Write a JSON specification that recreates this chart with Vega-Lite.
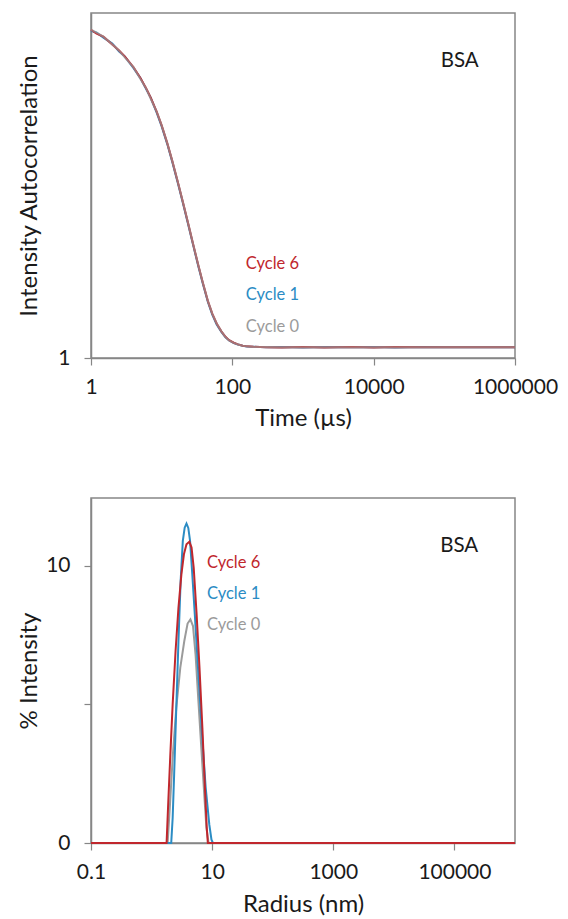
{
  "$schema": "https://vega.github.io/schema/vega-lite/v6.json",
  "padding": {"left": 16, "top": 12, "right": 5, "bottom": 5},
  "background": "white",
  "config": {
    "font": "Lato",
    "view": {"stroke": "#868686", "strokeWidth": 1.5},
    "axis": {
      "grid": false,
      "domainColor": "#868686",
      "domainWidth": 1.5,
      "tickColor": "#868686",
      "tickWidth": 1.2,
      "tickSize": 7,
      "labelFontSize": 21,
      "titleFontSize": 24,
      "titleFontWeight": "normal",
      "labelColor": "#1a1a1a",
      "titleColor": "#1a1a1a",
      "labelFont": "Lato",
      "titleFont": "Lato",
      "labelFlush": false,
      "labelOverlap": false
    }
  },
  "datasets": {
    "acf": [
      {"series": "Cycle 6", "t": 1, "g": 1.333}, {"series": "Cycle 6", "t": 1.2, "g": 1.329}, {"series": "Cycle 6", "t": 1.5, "g": 1.326}, {"series": "Cycle 6", "t": 2, "g": 1.318}, {"series": "Cycle 6", "t": 2.5, "g": 1.312}, {"series": "Cycle 6", "t": 3, "g": 1.306}, {"series": "Cycle 6", "t": 4, "g": 1.295}, {"series": "Cycle 6", "t": 5, "g": 1.284}, {"series": "Cycle 6", "t": 6, "g": 1.274}, {"series": "Cycle 6", "t": 7, "g": 1.264}, {"series": "Cycle 6", "t": 8.5, "g": 1.25}, {"series": "Cycle 6", "t": 10, "g": 1.236}, {"series": "Cycle 6", "t": 12, "g": 1.218}, {"series": "Cycle 6", "t": 14, "g": 1.201}, {"series": "Cycle 6", "t": 17, "g": 1.178}, {"series": "Cycle 6", "t": 20, "g": 1.158}, {"series": "Cycle 6", "t": 24, "g": 1.135}, {"series": "Cycle 6", "t": 28, "g": 1.115}, {"series": "Cycle 6", "t": 33, "g": 1.094}, {"series": "Cycle 6", "t": 38, "g": 1.077}, {"series": "Cycle 6", "t": 45, "g": 1.058}, {"series": "Cycle 6", "t": 52, "g": 1.045}, {"series": "Cycle 6", "t": 60, "g": 1.035}, {"series": "Cycle 6", "t": 70, "g": 1.027}, {"series": "Cycle 6", "t": 80, "g": 1.0215}, {"series": "Cycle 6", "t": 90, "g": 1.018}, {"series": "Cycle 6", "t": 105, "g": 1.0155}, {"series": "Cycle 6", "t": 120, "g": 1.0138}, {"series": "Cycle 6", "t": 140, "g": 1.0125}, {"series": "Cycle 6", "t": 160, "g": 1.0118}, {"series": "Cycle 6", "t": 200, "g": 1.0113}, {"series": "Cycle 6", "t": 300, "g": 1.011}, {"series": "Cycle 6", "t": 500, "g": 1.0106}, {"series": "Cycle 6", "t": 1000, "g": 1.0112}, {"series": "Cycle 6", "t": 2000, "g": 1.0107}, {"series": "Cycle 6", "t": 5000, "g": 1.0111}, {"series": "Cycle 6", "t": 10000, "g": 1.0106}, {"series": "Cycle 6", "t": 20000, "g": 1.0112}, {"series": "Cycle 6", "t": 50000, "g": 1.0109}, {"series": "Cycle 6", "t": 100000, "g": 1.011}, {"series": "Cycle 6", "t": 200000, "g": 1.0108}, {"series": "Cycle 6", "t": 500000, "g": 1.011}, {"series": "Cycle 6", "t": 1000000, "g": 1.011},
      {"series": "Cycle 1", "t": 1, "g": 1.332}, {"series": "Cycle 1", "t": 1.2, "g": 1.33}, {"series": "Cycle 1", "t": 1.5, "g": 1.325}, {"series": "Cycle 1", "t": 2, "g": 1.319}, {"series": "Cycle 1", "t": 2.5, "g": 1.311}, {"series": "Cycle 1", "t": 3, "g": 1.306}, {"series": "Cycle 1", "t": 4, "g": 1.294}, {"series": "Cycle 1", "t": 5, "g": 1.284}, {"series": "Cycle 1", "t": 6, "g": 1.273}, {"series": "Cycle 1", "t": 7, "g": 1.264}, {"series": "Cycle 1", "t": 8.5, "g": 1.249}, {"series": "Cycle 1", "t": 10, "g": 1.235}, {"series": "Cycle 1", "t": 12, "g": 1.217}, {"series": "Cycle 1", "t": 14, "g": 1.2}, {"series": "Cycle 1", "t": 17, "g": 1.177}, {"series": "Cycle 1", "t": 20, "g": 1.157}, {"series": "Cycle 1", "t": 24, "g": 1.134}, {"series": "Cycle 1", "t": 28, "g": 1.114}, {"series": "Cycle 1", "t": 33, "g": 1.093}, {"series": "Cycle 1", "t": 38, "g": 1.076}, {"series": "Cycle 1", "t": 45, "g": 1.057}, {"series": "Cycle 1", "t": 52, "g": 1.044}, {"series": "Cycle 1", "t": 60, "g": 1.034}, {"series": "Cycle 1", "t": 70, "g": 1.0265}, {"series": "Cycle 1", "t": 80, "g": 1.021}, {"series": "Cycle 1", "t": 90, "g": 1.0178}, {"series": "Cycle 1", "t": 105, "g": 1.0152}, {"series": "Cycle 1", "t": 120, "g": 1.0136}, {"series": "Cycle 1", "t": 140, "g": 1.0124}, {"series": "Cycle 1", "t": 160, "g": 1.0117}, {"series": "Cycle 1", "t": 200, "g": 1.0114}, {"series": "Cycle 1", "t": 300, "g": 1.0109}, {"series": "Cycle 1", "t": 500, "g": 1.0111}, {"series": "Cycle 1", "t": 1000, "g": 1.0107}, {"series": "Cycle 1", "t": 2000, "g": 1.0112}, {"series": "Cycle 1", "t": 5000, "g": 1.0108}, {"series": "Cycle 1", "t": 10000, "g": 1.0111}, {"series": "Cycle 1", "t": 20000, "g": 1.0107}, {"series": "Cycle 1", "t": 50000, "g": 1.0112}, {"series": "Cycle 1", "t": 100000, "g": 1.0109}, {"series": "Cycle 1", "t": 200000, "g": 1.011}, {"series": "Cycle 1", "t": 500000, "g": 1.011}, {"series": "Cycle 1", "t": 1000000, "g": 1.011},
      {"series": "Cycle 0", "t": 1, "g": 1.333}, {"series": "Cycle 0", "t": 1.2, "g": 1.33}, {"series": "Cycle 0", "t": 1.5, "g": 1.326}, {"series": "Cycle 0", "t": 2, "g": 1.318}, {"series": "Cycle 0", "t": 2.5, "g": 1.312}, {"series": "Cycle 0", "t": 3, "g": 1.305}, {"series": "Cycle 0", "t": 4, "g": 1.295}, {"series": "Cycle 0", "t": 5, "g": 1.283}, {"series": "Cycle 0", "t": 6, "g": 1.274}, {"series": "Cycle 0", "t": 7, "g": 1.263}, {"series": "Cycle 0", "t": 8.5, "g": 1.25}, {"series": "Cycle 0", "t": 10, "g": 1.236}, {"series": "Cycle 0", "t": 12, "g": 1.218}, {"series": "Cycle 0", "t": 14, "g": 1.201}, {"series": "Cycle 0", "t": 17, "g": 1.178}, {"series": "Cycle 0", "t": 20, "g": 1.158}, {"series": "Cycle 0", "t": 24, "g": 1.135}, {"series": "Cycle 0", "t": 28, "g": 1.115}, {"series": "Cycle 0", "t": 33, "g": 1.094}, {"series": "Cycle 0", "t": 38, "g": 1.077}, {"series": "Cycle 0", "t": 45, "g": 1.058}, {"series": "Cycle 0", "t": 52, "g": 1.045}, {"series": "Cycle 0", "t": 60, "g": 1.035}, {"series": "Cycle 0", "t": 70, "g": 1.027}, {"series": "Cycle 0", "t": 80, "g": 1.0213}, {"series": "Cycle 0", "t": 90, "g": 1.0179}, {"series": "Cycle 0", "t": 105, "g": 1.0154}, {"series": "Cycle 0", "t": 120, "g": 1.0137}, {"series": "Cycle 0", "t": 140, "g": 1.0125}, {"series": "Cycle 0", "t": 160, "g": 1.0118}, {"series": "Cycle 0", "t": 200, "g": 1.0112}, {"series": "Cycle 0", "t": 300, "g": 1.0111}, {"series": "Cycle 0", "t": 500, "g": 1.0108}, {"series": "Cycle 0", "t": 1000, "g": 1.011}, {"series": "Cycle 0", "t": 2000, "g": 1.0109}, {"series": "Cycle 0", "t": 5000, "g": 1.011}, {"series": "Cycle 0", "t": 10000, "g": 1.0109}, {"series": "Cycle 0", "t": 20000, "g": 1.011}, {"series": "Cycle 0", "t": 50000, "g": 1.011}, {"series": "Cycle 0", "t": 100000, "g": 1.011}, {"series": "Cycle 0", "t": 200000, "g": 1.011}, {"series": "Cycle 0", "t": 500000, "g": 1.011}, {"series": "Cycle 0", "t": 1000000, "g": 1.011}
    ],
    "psd": [
      {"series": "Cycle 0", "r": 0.1, "pct": 0}, {"series": "Cycle 0", "r": 1.72, "pct": 0}, {"series": "Cycle 0", "r": 1.84, "pct": 0}, {"series": "Cycle 0", "r": 2.0, "pct": 1.27}, {"series": "Cycle 0", "r": 2.23, "pct": 3.08}, {"series": "Cycle 0", "r": 2.56, "pct": 4.89}, {"series": "Cycle 0", "r": 2.98, "pct": 6.33}, {"series": "Cycle 0", "r": 3.47, "pct": 7.29}, {"series": "Cycle 0", "r": 3.93, "pct": 7.92}, {"series": "Cycle 0", "r": 4.38, "pct": 8.07}, {"series": "Cycle 0", "r": 4.83, "pct": 7.83}, {"series": "Cycle 0", "r": 5.32, "pct": 6.81}, {"series": "Cycle 0", "r": 5.93, "pct": 5.13}, {"series": "Cycle 0", "r": 6.62, "pct": 3.44}, {"series": "Cycle 0", "r": 7.4, "pct": 1.76}, {"series": "Cycle 0", "r": 8.04, "pct": 0.55}, {"series": "Cycle 0", "r": 8.73, "pct": 0}, {"series": "Cycle 0", "r": 1000000, "pct": 0},
      {"series": "Cycle 1", "r": 0.1, "pct": 0}, {"series": "Cycle 1", "r": 1.97, "pct": 0}, {"series": "Cycle 1", "r": 2.11, "pct": 0}, {"series": "Cycle 1", "r": 2.23, "pct": 0.91}, {"series": "Cycle 1", "r": 2.36, "pct": 2.48}, {"series": "Cycle 1", "r": 2.56, "pct": 4.89}, {"series": "Cycle 1", "r": 2.78, "pct": 7.29}, {"series": "Cycle 1", "r": 3.02, "pct": 9.46}, {"series": "Cycle 1", "r": 3.28, "pct": 10.9}, {"series": "Cycle 1", "r": 3.52, "pct": 11.38}, {"series": "Cycle 1", "r": 3.77, "pct": 11.53}, {"series": "Cycle 1", "r": 4.04, "pct": 11.37}, {"series": "Cycle 1", "r": 4.32, "pct": 10.9}, {"series": "Cycle 1", "r": 4.7, "pct": 9.7}, {"series": "Cycle 1", "r": 5.17, "pct": 8.26}, {"series": "Cycle 1", "r": 5.93, "pct": 6.09}, {"series": "Cycle 1", "r": 6.81, "pct": 3.92}, {"series": "Cycle 1", "r": 7.82, "pct": 2.0}, {"series": "Cycle 1", "r": 8.97, "pct": 0.67}, {"series": "Cycle 1", "r": 9.75, "pct": 0.12}, {"series": "Cycle 1", "r": 10.3, "pct": 0}, {"series": "Cycle 1", "r": 1000000, "pct": 0},
      {"series": "Cycle 6", "r": 0.1, "pct": 0}, {"series": "Cycle 6", "r": 1.65, "pct": 0}, {"series": "Cycle 6", "r": 1.77, "pct": 0}, {"series": "Cycle 6", "r": 1.87, "pct": 1.27}, {"series": "Cycle 6", "r": 2.03, "pct": 3.08}, {"series": "Cycle 6", "r": 2.23, "pct": 5.01}, {"series": "Cycle 6", "r": 2.49, "pct": 6.93}, {"series": "Cycle 6", "r": 2.78, "pct": 8.5}, {"series": "Cycle 6", "r": 3.11, "pct": 9.7}, {"series": "Cycle 6", "r": 3.42, "pct": 10.42}, {"series": "Cycle 6", "r": 3.77, "pct": 10.78}, {"series": "Cycle 6", "r": 4.21, "pct": 10.87}, {"series": "Cycle 6", "r": 4.57, "pct": 10.66}, {"series": "Cycle 6", "r": 4.96, "pct": 9.94}, {"series": "Cycle 6", "r": 5.54, "pct": 8.26}, {"series": "Cycle 6", "r": 6.18, "pct": 6.33}, {"series": "Cycle 6", "r": 6.9, "pct": 4.16}, {"series": "Cycle 6", "r": 7.6, "pct": 2.0}, {"series": "Cycle 6", "r": 8.15, "pct": 0.55}, {"series": "Cycle 6", "r": 8.49, "pct": 0}, {"series": "Cycle 6", "r": 1000000, "pct": 0}
    ],
    "topLabels": [
      {"series": "Cycle 6", "t": 155, "g": 1.0954},
      {"series": "Cycle 1", "t": 155, "g": 1.0639},
      {"series": "Cycle 0", "t": 155, "g": 1.0315}
    ],
    "topTag": [{"tag": "BSA", "t": 165000, "g": 1.301}],
    "botLabels": [
      {"series": "Cycle 6", "r": 8.2, "pct": 10.1},
      {"series": "Cycle 1", "r": 8.2, "pct": 8.98},
      {"series": "Cycle 0", "r": 8.2, "pct": 7.86}
    ],
    "botTag": [{"tag": "BSA", "r": 119700, "pct": 10.72}]
  },
  "vconcat": [
    {
      "width": 424,
      "height": 345,
      "encoding": {
        "x": {"field": "t", "type": "quantitative", "scale": {"type": "log", "domain": [1, 1000000]},
          "axis": {"title": "Time (µs)", "values": [1, 100, 10000, 1000000], "format": "d", "labelPadding": 11, "titleY": 60, "titleBaseline": "middle"}},
        "y": {"field": "g", "type": "quantitative", "scale": {"domain": [1, 1.35], "nice": false, "zero": false},
          "axis": {"title": "Intensity Autocorrelation", "values": [1], "format": "d", "labelPadding": 14, "titleX": -62, "titleBaseline": "middle"}}
      },
      "layer": [
        {"data": {"name": "acf"}, "transform": [{"filter": "datum.series === 'Cycle 1'"}], "mark": {"type": "line", "strokeWidth": 2},
          "encoding": {"color": {"field": "series", "type": "nominal", "scale": {"domain": ["Cycle 0", "Cycle 1", "Cycle 6"], "range": ["#9b9b9b", "#2b8cc4", "#c0272d"]}, "legend": null}}},
        {"data": {"name": "acf"}, "transform": [{"filter": "datum.series === 'Cycle 6'"}], "mark": {"type": "line", "strokeWidth": 2},
          "encoding": {"color": {"field": "series", "type": "nominal", "legend": null}}},
        {"data": {"name": "acf"}, "transform": [{"filter": "datum.series === 'Cycle 0'"}], "mark": {"type": "line", "strokeWidth": 2, "opacity": 0.65},
          "encoding": {"color": {"field": "series", "type": "nominal", "legend": null}}},
        {"data": {"name": "topLabels"}, "mark": {"type": "text", "align": "left", "baseline": "middle", "fontSize": 16.5},
          "encoding": {"text": {"field": "series"}, "color": {"field": "series", "type": "nominal", "legend": null}}},
        {"data": {"name": "topTag"}, "mark": {"type": "text", "align": "center", "baseline": "middle", "fontSize": 20.5, "color": "#1a1a1a"},
          "encoding": {"text": {"field": "tag"}}}
      ]
    },
    {
      "width": 424,
      "height": 345,
      "encoding": {
        "x": {"field": "r", "type": "quantitative", "scale": {"type": "log", "domain": [0.1, 1000000]},
          "axis": {"title": "Radius (nm)", "values": [0.1, 10, 1000, 100000], "format": "~g", "labelPadding": 11, "titleY": 61, "titleBaseline": "middle"}},
        "y": {"field": "pct", "type": "quantitative", "scale": {"domain": [0, 12.45], "nice": false},
          "axis": {"title": "% Intensity", "values": [0, 5, 10], "labelExpr": "datum.value == 5 ? '' : datum.label", "labelPadding": 14, "titleX": -62, "titleBaseline": "middle"}}
      },
      "layer": [
        {"data": {"name": "psd"}, "transform": [{"filter": "datum.series === 'Cycle 0'"}], "mark": {"type": "line", "strokeWidth": 2},
          "encoding": {"color": {"field": "series", "type": "nominal", "scale": {"domain": ["Cycle 0", "Cycle 1", "Cycle 6"], "range": ["#9b9b9b", "#2b8cc4", "#c0272d"]}, "legend": null}}},
        {"data": {"name": "psd"}, "transform": [{"filter": "datum.series === 'Cycle 1'"}], "mark": {"type": "line", "strokeWidth": 2},
          "encoding": {"color": {"field": "series", "type": "nominal", "legend": null}}},
        {"data": {"name": "psd"}, "transform": [{"filter": "datum.series === 'Cycle 6'"}], "mark": {"type": "line", "strokeWidth": 2},
          "encoding": {"color": {"field": "series", "type": "nominal", "legend": null}}},
        {"data": {"name": "botLabels"}, "mark": {"type": "text", "align": "left", "baseline": "middle", "fontSize": 16.5},
          "encoding": {"text": {"field": "series"}, "color": {"field": "series", "type": "nominal", "legend": null}}},
        {"data": {"name": "botTag"}, "mark": {"type": "text", "align": "center", "baseline": "middle", "fontSize": 20.5, "color": "#1a1a1a"},
          "encoding": {"text": {"field": "tag"}}}
      ]
    }
  ],
  "spacing": 140,
  "bounds": "flush",
  "resolve": {"scale": {"color": "shared"}}
}
